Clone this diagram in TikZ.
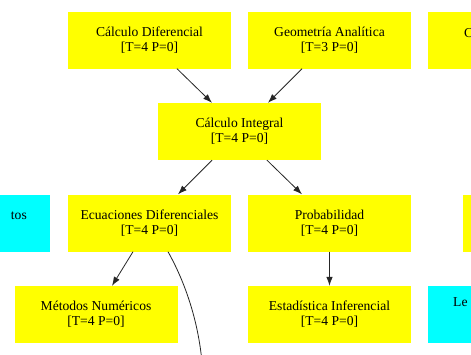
\documentclass[tikz,border=0pt]{standalone}
\usepackage{fontspec}
\setmainfont{Liberation Serif}
\usetikzlibrary{arrows.meta}
\definecolor{gvyellow}{RGB}{255,255,0}
\definecolor{gvcyan}{RGB}{0,255,255}
\begin{document}
\begin{tikzpicture}[x=1pt,y=-1pt,
  ybox/.style={rectangle, fill=gvyellow, draw=none, minimum width=163pt, minimum height=57pt, inner sep=0pt, align=center, font=\fontsize{13.6}{15}\selectfont},
  cbox/.style={ybox, fill=gvcyan},
  txt/.style={inner sep=0pt, font=\fontsize{13.6}{15}\selectfont},
  edge/.style={draw=black!85, line width=0.8pt, -{Latex[length=9pt,width=6.5pt]}},
]
\useasboundingbox (0,0) rectangle (471,354);
\fill[white] (0,0) rectangle (471,354);
\begin{scope}
\clip (0,0) rectangle (471,354);
\node[ybox] (d) at (149.5,40) {Cálculo Diferencial\\{}[T=4 P=0]};
\node[ybox] (g) at (329.5,40) {Geometría Analítica\\{}[T=3 P=0]};
\node[ybox] (c3) at (509.5,40) {};
\node[txt, anchor=west] (c3t) at (464,33) {C};
\node[ybox] (i) at (239.5,131.5) {Cálculo Integral\\{}[T=4 P=0]};
\node[cbox] (l) at (-31.5,223) {};
\node[txt, anchor=east] (lt) at (27,216) {tos};
\node[ybox] (e) at (149.5,223) {Ecuaciones Diferenciales\\{}[T=4 P=0]};
\node[ybox] (p) at (329.5,223) {Probabilidad\\{}[T=4 P=0]};
\node[ybox] (r3) at (544.5,223) {};
\node[ybox] (m) at (96,314.5) {Métodos Numéricos\\{}[T=4 P=0]};
\node[ybox] (s) at (329.5,314.5) {Estadística Inferencial\\{}[T=4 P=0]};
\node[cbox] (le) at (509.5,314.5) {};
\node[txt, anchor=west] (let) at (453,302) {Le};
\coordinate (cend) at (202,362);
\draw[edge] ([xshift=27.5pt]d.south) -- ([xshift=-27.5pt]i.north);
\draw[edge] ([xshift=-27.5pt]g.south) -- ([xshift=28.5pt]i.north);
\draw[edge] ([xshift=-27.5pt]i.south) -- ([xshift=28.5pt]e.north);
\draw[edge] ([xshift=27.5pt]i.south) -- ([xshift=-27.5pt]p.north);
\draw[edge] ([xshift=-16.5pt]e.south) -- ([xshift=16pt]m.north);
\draw[edge] (p.south) -- (s.north);
\draw[draw=black!85, line width=0.8pt] ([xshift=18.5pt]e.south) .. controls (185,282) and (198,320) .. (cend);
\end{scope}
\end{tikzpicture}
\end{document}
